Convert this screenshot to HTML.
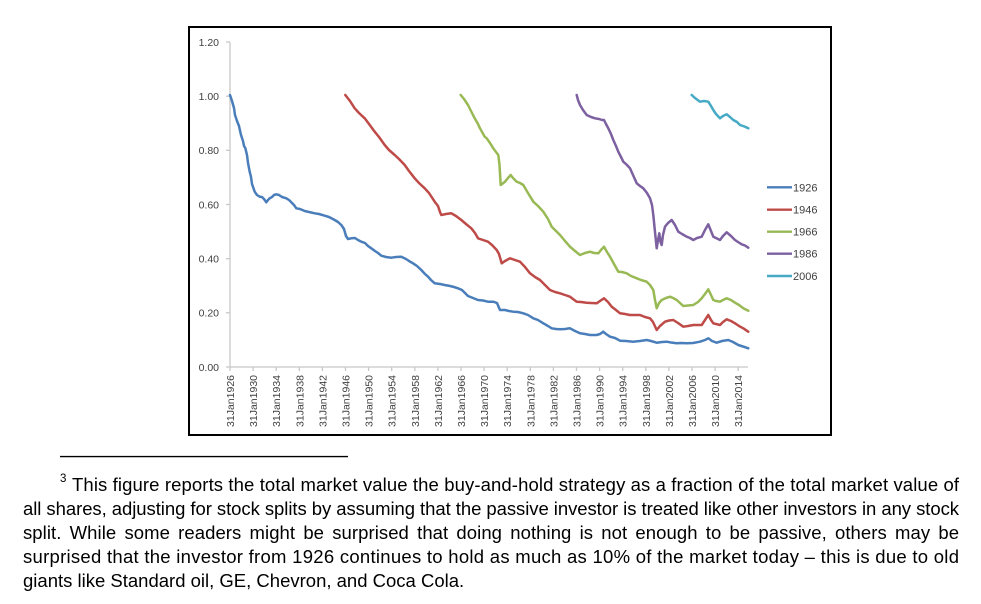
<!DOCTYPE html>
<html>
<head>
<meta charset="utf-8">
<style>
html,body{margin:0;padding:0;background:#fff;}
svg{display:block;}
</style>
</head>
<body>
<svg width="981" height="604" viewBox="0 0 981 604" xmlns="http://www.w3.org/2000/svg">
<rect x="0" y="0" width="981" height="604" fill="#fff"/>
<!-- chart frame -->
<rect x="189" y="27" width="642" height="408" fill="#fff" stroke="#000" stroke-width="2"/>

<!-- axes -->
<g stroke="#c8c8c8" stroke-width="1.3" fill="none">
<line x1="230" y1="42" x2="230" y2="367"/>
<line x1="230" y1="367" x2="748" y2="367"/>
<line x1="226" y1="42" x2="230" y2="42"/>
<line x1="226" y1="96.2" x2="230" y2="96.2"/>
<line x1="226" y1="150.3" x2="230" y2="150.3"/>
<line x1="226" y1="204.5" x2="230" y2="204.5"/>
<line x1="226" y1="258.7" x2="230" y2="258.7"/>
<line x1="226" y1="312.8" x2="230" y2="312.8"/>
<line x1="226" y1="367" x2="230" y2="367"/>
<line x1="230" y1="367" x2="230" y2="371"/>
<line x1="253.1" y1="367" x2="253.1" y2="371"/>
<line x1="276.2" y1="367" x2="276.2" y2="371"/>
<line x1="299.3" y1="367" x2="299.3" y2="371"/>
<line x1="322.4" y1="367" x2="322.4" y2="371"/>
<line x1="345.5" y1="367" x2="345.5" y2="371"/>
<line x1="368.6" y1="367" x2="368.6" y2="371"/>
<line x1="391.7" y1="367" x2="391.7" y2="371"/>
<line x1="414.8" y1="367" x2="414.8" y2="371"/>
<line x1="437.9" y1="367" x2="437.9" y2="371"/>
<line x1="461" y1="367" x2="461" y2="371"/>
<line x1="484.1" y1="367" x2="484.1" y2="371"/>
<line x1="507.2" y1="367" x2="507.2" y2="371"/>
<line x1="530.3" y1="367" x2="530.3" y2="371"/>
<line x1="553.4" y1="367" x2="553.4" y2="371"/>
<line x1="576.5" y1="367" x2="576.5" y2="371"/>
<line x1="599.6" y1="367" x2="599.6" y2="371"/>
<line x1="622.7" y1="367" x2="622.7" y2="371"/>
<line x1="645.8" y1="367" x2="645.8" y2="371"/>
<line x1="668.9" y1="367" x2="668.9" y2="371"/>
<line x1="692" y1="367" x2="692" y2="371"/>
<line x1="715.1" y1="367" x2="715.1" y2="371"/>
<line x1="738.2" y1="367" x2="738.2" y2="371"/>
</g>

<!-- y labels -->
<g font-family="'Liberation Sans', sans-serif" font-size="10.5" fill="#404040" text-anchor="end">
<text x="219" y="45.8">1.20</text>
<text x="219" y="100">1.00</text>
<text x="219" y="154.1">0.80</text>
<text x="219" y="208.3">0.60</text>
<text x="219" y="262.5">0.40</text>
<text x="219" y="316.6">0.20</text>
<text x="219" y="370.8">0.00</text>
</g>

<!-- x labels -->
<g font-family="'Liberation Sans', sans-serif" font-size="10.5" fill="#404040" text-anchor="end">
<text transform="translate(234,375) rotate(-90)">31Jan1926</text>
<text transform="translate(257.1,375) rotate(-90)">31Jan1930</text>
<text transform="translate(280.2,375) rotate(-90)">31Jan1934</text>
<text transform="translate(303.3,375) rotate(-90)">31Jan1938</text>
<text transform="translate(326.4,375) rotate(-90)">31Jan1942</text>
<text transform="translate(349.5,375) rotate(-90)">31Jan1946</text>
<text transform="translate(372.6,375) rotate(-90)">31Jan1950</text>
<text transform="translate(395.7,375) rotate(-90)">31Jan1954</text>
<text transform="translate(418.8,375) rotate(-90)">31Jan1958</text>
<text transform="translate(441.9,375) rotate(-90)">31Jan1962</text>
<text transform="translate(465,375) rotate(-90)">31Jan1966</text>
<text transform="translate(488.1,375) rotate(-90)">31Jan1970</text>
<text transform="translate(511.2,375) rotate(-90)">31Jan1974</text>
<text transform="translate(534.3,375) rotate(-90)">31Jan1978</text>
<text transform="translate(557.4,375) rotate(-90)">31Jan1982</text>
<text transform="translate(580.5,375) rotate(-90)">31Jan1986</text>
<text transform="translate(603.6,375) rotate(-90)">31Jan1990</text>
<text transform="translate(626.7,375) rotate(-90)">31Jan1994</text>
<text transform="translate(649.8,375) rotate(-90)">31Jan1998</text>
<text transform="translate(672.9,375) rotate(-90)">31Jan2002</text>
<text transform="translate(696,375) rotate(-90)">31Jan2006</text>
<text transform="translate(719.1,375) rotate(-90)">31Jan2010</text>
<text transform="translate(742.2,375) rotate(-90)">31Jan2014</text>
</g>

<!-- series -->
<g fill="none" stroke-width="2.5" stroke-linejoin="round" stroke-linecap="round">
<polyline stroke="#4A7EBB" points="230,95 232,101 234,108 235,115 237,121 239,126 241,135 243,141 244,146 245.3,148 247,155 248,163 249.7,171.7 251,177 252,184 254.7,191.7 257,195 259.7,196.7 262,197 264,199 266.3,202.3 268,200 269.7,198.3 272,197 274,195 276.3,194.3 279,195 282,197 286.3,198.3 289,200 291.3,202.3 294,205 296.3,208.3 300,209 304.7,211 309,212 314.7,213.3 319,214 324.7,215.7 329,217 334.7,220 338,222 341.3,225 344,229 346,236 348,239 351.3,238.3 355,238 358,240 361.3,241.7 365,243 368,246 371.3,248.3 375,251 378,253 381.3,255.7 386,257 391.3,257.7 396,257 401.3,256.7 406,259 409,261 413,263.3 417,266 421.3,270 425,274 428,276.7 431,280 434.7,283.3 440,284 444.7,285 450,286 454,287 458,288.3 462,290 465,293 468,296 473,298 478,300 483,300.5 488,301.7 493.3,301.7 497,303 500,310 505,310 509,311 513.3,311.7 518,312 523.3,313.3 528,315 533.3,318.3 538,320 543.3,323.3 548,326 551.7,328.3 556,329 560,329.3 565,329 570,328.3 575,331 580,333.3 585,334 590,335 596.7,335 600,334 603.3,331.7 606,334 610,336.7 615,338 620,340.7 626,341 633.3,341.7 640,341 646.7,340 651,341 656.7,342.7 662,342 666.7,341.7 671,342.5 676.7,343.3 681,343 686.7,343.3 693,343 700,341.7 705,340 708.3,338.3 712,341 716.7,342.7 722,341 728.3,340 733,342 738.3,345 743,346.5 748.3,348.3"/>
<polyline stroke="#BE4B48" points="345.3,95 350,101 354.7,108.3 359,113 364.7,118.3 369,124 374.7,131.7 379,137 384.7,145 389,150 394.7,155 399,159 404.7,165 409,171 414.7,178.3 419,183 424.7,188.3 429,193 434.7,201.7 438,206 440,212 441.3,215 446,214 451.3,213.3 456,216 461.3,220 466,224 471.3,228.3 475,233 478,238.3 483,240 488,241.7 492,245 496.7,250 499,254 501.7,263.3 505,261 510,258.3 515,260 520,261.7 525,267 530,273.3 535,277 540,280 545,285 550,290 555,292 560,293.3 565,295 570,296.7 573,299 576.7,301.7 581,302 586.7,302.7 591,303 596.7,303.3 600,301 604,298.3 608,302 611.7,306.7 616,310 620,313.3 625,314 630,315 635,315 640,315 645,317 650,318.3 653,322 656.7,330 660,326 665,321.7 669,320.5 673.3,320 678,323 683.3,326.7 688,326 693.3,325 698,325 701.7,325 705,320 708.3,315 711,320 713.3,323.3 716,324 720,325 723,322 726.7,319.3 731,321 735,323.3 739,326 743.3,328.3 748.3,331.7"/>
<polyline stroke="#98B954" points="460.7,95 464,99 468,105 471,111 474.7,118.3 478,124 480,128.3 484.7,136.7 486.7,138.3 490,143 493.3,148.3 496,152 498.3,155 499.5,165 500.7,185 505,181.7 508,178 510.7,175 513,178 516.7,181.7 520,183 523.3,185 528,193 533.3,201.7 538,206 543.3,211.7 548,219 551.7,226.7 556,231 560,235 565,241 570,246.7 575,251 580,255 585,253 590,251.7 594,253 598.3,253.3 601,250 604,246.7 607,252 610,256.7 614,264 618.3,271.7 622,272 626.7,273.3 631,276 636.7,278.3 641,280 646.7,281.7 650,285 653.3,290 655,300 656.7,308.3 659,303 661.7,300 666,298 670,296.7 673,298 676.7,300 680,303 683.3,306 688,305.5 693.3,305 698,302 701.7,298.3 705,294 708.3,289.3 711,295 713.3,300 716,301 720,301.7 723,300 726.7,298.3 731,300 735,302.7 739,305 743.3,308.3 748.3,310.7"/>
<polyline stroke="#7D60A0" points="576.7,95 578,100 580,105 583,110 586.7,115 591,117 595,118.3 599,119 602,120 604,120 606,124 608.3,128.3 611,134 613.3,140 616,146 618.3,151.7 621,157 623.3,161.7 627,165 630,168.3 633,175 636.7,183.3 640,186 643.3,188.3 647,193 650,198.3 652,205 653.3,215 655,232 656.7,248.3 658,240 659.3,233.3 660.5,242 661.7,245 663,235 665,226.7 668,223 671.7,220 675,225 678.3,231.7 682,234 686.7,236.7 690,238 693.3,240 697,238 701.7,236.7 705,230 708.3,224.3 711,231 713.3,236.7 716,238 720,240 723,236 726.7,232.3 731,236 735,240 738,242 741.7,244.3 745,245.5 748.3,247.7"/>
<polyline stroke="#46AAC5" points="691.7,95 695,98 700,101.7 704,101 708.3,101.7 711,106 713.3,110 716,114 720,118.3 723,116 726.7,114.3 730,117 733.3,120 737,122 740,125 743,126 745,126.7 748.3,128.3"/>
</g>

<!-- legend -->
<g stroke-width="2.4" fill="none">
<line x1="767" y1="187.3" x2="792" y2="187.3" stroke="#4A7EBB"/>
<line x1="767" y1="209.7" x2="792" y2="209.7" stroke="#BE4B48"/>
<line x1="767" y1="231.7" x2="792" y2="231.7" stroke="#98B954"/>
<line x1="767" y1="253.7" x2="792" y2="253.7" stroke="#7D60A0"/>
<line x1="767" y1="276" x2="792" y2="276" stroke="#46AAC5"/>
</g>
<g font-family="'Liberation Sans', sans-serif" font-size="11" fill="#404040">
<text x="793" y="191.3">1926</text>
<text x="793" y="213.7">1946</text>
<text x="793" y="235.7">1966</text>
<text x="793" y="257.7">1986</text>
<text x="793" y="280">2006</text>
</g>

<!-- footnote rule -->
<line x1="60" y1="456.6" x2="348" y2="456.6" stroke="#000" stroke-width="1.4"/>

<!-- footnote text -->
<g font-family="'Liberation Sans', sans-serif" font-size="18.5" fill="#000">
<text x="60" y="482" font-size="11.5">3</text>
<text x="72" y="491" textLength="887" lengthAdjust="spacing">This figure reports the total market value the buy-and-hold strategy as a fraction of the total market value of</text>
<text x="23" y="515" textLength="936" lengthAdjust="spacing">all shares, adjusting for stock splits by assuming that the passive investor is treated like other investors in any stock</text>
<text x="23" y="539" textLength="936" lengthAdjust="spacing" word-spacing="3">split. While some readers might be surprised that doing nothing is not enough to be passive, others may be</text>
<text x="23" y="563" textLength="936" lengthAdjust="spacing">surprised that the investor from 1926 continues to hold as much as 10% of the market today – this is due to old</text>
<text x="23" y="587">giants like Standard oil, GE, Chevron, and Coca Cola.</text>
</g>
</svg>
</body>
</html>
